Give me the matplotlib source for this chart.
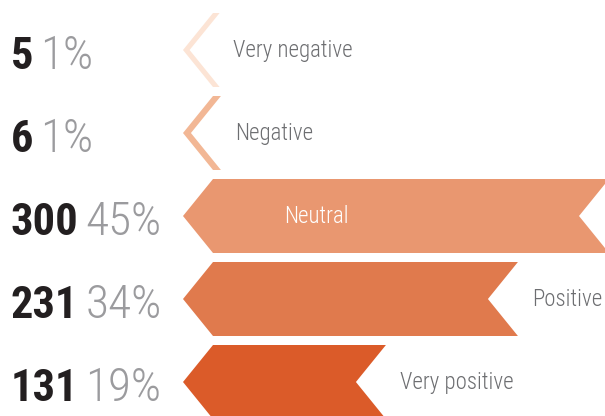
import matplotlib.pyplot as plt
from matplotlib.patches import Polygon

# ---------------------------------------------------------------------------
# Data
# ---------------------------------------------------------------------------
categories = ["Very negative", "Negative", "Neutral", "Positive", "Very positive"]
counts = [5, 6, 300, 231, 131]
percents = ["1%", "1%", "45%", "34%", "19%"]
colors = ["#fce4d5", "#f2b795", "#e99770", "#e07a4d", "#db5b29"]

# condensed faces (fall back to other condensed cuts)
FAMILY = ["Roboto Condensed", "Open Sans", "DejaVu Sans"]
BOLD = dict(family=FAMILY, fontstretch="condensed", fontweight="bold")
LIGHT = dict(family=FAMILY, fontstretch="condensed", fontweight="light")

W, H, DPI = 605, 416, 100
BAR_X0 = 213          # pixel where the bar body starts
PX_PER_UNIT = 1.32    # pixels per count
ROW0, ROW_PITCH = 50, 83
TIP = 30 / PX_PER_UNIT    # chevron depth in count units
HALF = 37 / ROW_PITCH     # half bar height in row units

fig = plt.figure(figsize=(W / DPI, H / DPI), dpi=DPI)
ax = fig.add_axes([0, 0, 1, 1])
ax.set_xlim(-BAR_X0 / PX_PER_UNIT, (W - BAR_X0) / PX_PER_UNIT)
ax.set_ylim((H - ROW0) / ROW_PITCH, -ROW0 / ROW_PITCH)
ax.axis("off")

for i, (cat, n, pct, col) in enumerate(zip(categories, counts, percents, colors)):
    pts = [(0, i - HALF), (n, i - HALF), (n - TIP, i), (n, i + HALF),
           (0, i + HALF), (-TIP, i)]
    ax.add_patch(Polygon(pts, closed=True, facecolor=col, edgecolor="none"))

    # count + percentage on the left, sharing one baseline
    cnt = ax.annotate(str(n), xy=(11 / W, i), xycoords=("axes fraction", "data"),
                      xytext=(0, -14), textcoords="offset points",
                      fontsize=32, color="#231f20", ha="left", va="baseline", **BOLD)
    ax.annotate(pct, xy=(1, i), xycoords=(cnt, "data"), xytext=(5, -14),
                textcoords="offset points", fontsize=34, color="#9b9b9e",
                ha="left", va="baseline", **LIGHT)

    # category label: right of the bar, or inside when the bar runs off the edge
    right_px = BAR_X0 + n * PX_PER_UNIT
    if right_px >= W:
        ax.annotate(cat, xy=(-TIP, i), xytext=(73, 0), textcoords="offset points",
                    fontsize=16.5, color="white", ha="left", va="center", **LIGHT)
    else:
        ax.annotate(cat, xy=(n, i), xytext=(10, 0), textcoords="offset points",
                    fontsize=16.5, color="#6d6e71", ha="left", va="center", **LIGHT)

fig.savefig("out.png", dpi=DPI)
